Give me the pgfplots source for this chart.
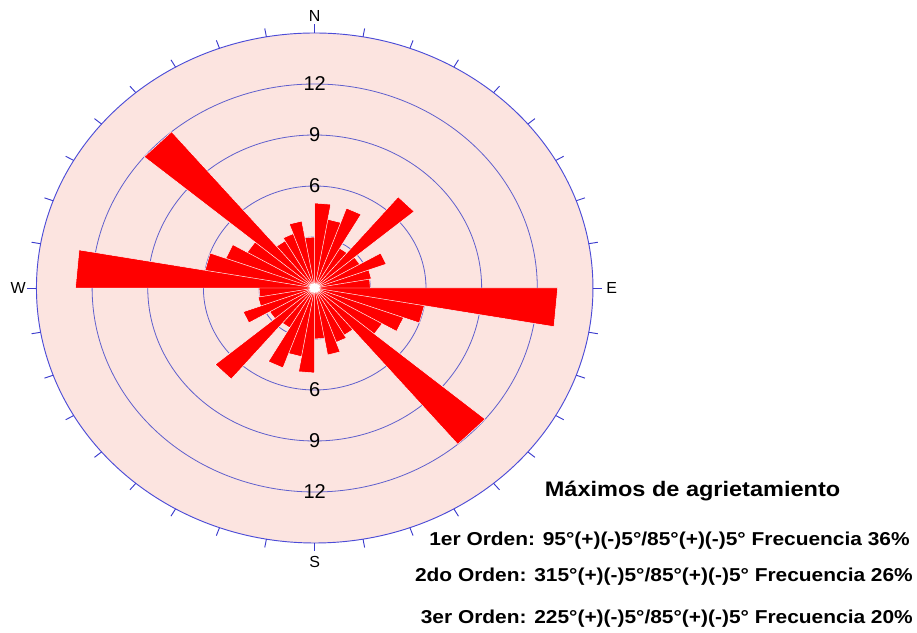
\documentclass[border=0pt]{standalone}
\usepackage{pgfplots}
\pgfplotsset{compat=1.18}
\usepackage{fontspec}
\setmainfont{Liberation Sans}
\usepackage{graphicx}
\definecolor{diskpink}{RGB}{252,228,224}
\definecolor{ringblue}{RGB}{95,95,205}
\definecolor{tickblue}{RGB}{60,60,205}
\definecolor{barred}{RGB}{255,0,0}
\begin{document}
\begin{tikzpicture}
\begin{axis}[
  x=13.9125pt, y=12.75pt,
  xmin=-16.965, xmax=32.469, ymin=-20.294, ymax=16.941,
  scale only axis, hide axis, clip=false,
  anchor=south west, at={(0,0)},
]
\path (rel axis cs:0,0) rectangle (rel axis cs:1,1);
\fill[diskpink] (axis cs:0,0) ellipse [x radius=15, y radius=15];
\pgfplotsinvokeforeach{3,6,9,12}{
  \draw[ringblue, line width=0.6pt] (axis cs:0,0) ellipse [x radius=#1, y radius=#1];
}
% rose bars: (math angle, length), each 10 degree class drawn as a wedge
\addplot[fill=barred, draw=white, line width=0.35pt, data cs=polar] coordinates {
(0,0) (90,5.0) (80,5.0)
(0,0) (80,4.1) (70,4.1)
(0,0) (70,5.0) (60,5.0)
(0,0) (60,2.7) (50,2.7)
(0,0) (50,7.0) (40,7.0)
(0,0) (40,2.8) (30,2.8)
(0,0) (30,4.1) (20,4.1)
(0,0) (20,3.1) (10,3.1)
(0,0) (10,3.0) (0,3.0)
(0,0) (0,13.1) (-10,13.1)
(0,0) (-10,6.0) (-20,6.0)
(0,0) (-20,5.1) (-30,5.1)
(0,0) (-30,4.2) (-40,4.2)
(0,0) (-40,12.0) (-50,12.0)
(0,0) (-50,3.2) (-60,3.2)
(0,0) (-60,3.4) (-70,3.4)
(0,0) (-70,4.0) (-80,4.0)
(0,0) (-80,3.0) (-90,3.0)
(0,0) (-90,5.0) (-100,5.0)
(0,0) (-100,4.1) (-110,4.1)
(0,0) (-110,5.0) (-120,5.0)
(0,0) (-120,2.7) (-130,2.7)
(0,0) (-130,7.0) (-140,7.0)
(0,0) (-140,2.8) (-150,2.8)
(0,0) (-150,4.1) (-160,4.1)
(0,0) (-160,3.1) (-170,3.1)
(0,0) (-170,3.0) (-180,3.0)
(0,0) (-180,12.9) (-190,12.9)
(0,0) (-190,6.0) (-200,6.0)
(0,0) (-200,5.1) (-210,5.1)
(0,0) (-210,4.2) (-220,4.2)
(0,0) (-220,12.0) (-230,12.0)
(0,0) (-230,3.2) (-240,3.2)
(0,0) (-240,3.4) (-250,3.4)
(0,0) (-250,4.0) (-260,4.0)
(0,0) (-260,3.0) (-270,3.0)
(0,0)
};
\fill[white] (axis cs:0,0) ellipse [x radius=0.25, y radius=0.25];
\draw[ringblue!80!blue, line width=0.7pt] (axis cs:0,0) ellipse [x radius=15, y radius=15];
\pgfplotsinvokeforeach{0,10,20,30,40,50,60,70,80,90,100,110,120,130,140,150,160,170,180,190,200,210,220,230,240,250,260,270,280,290,300,310,320,330,340,350}{
  \draw[tickblue, line width=0.7pt] (axis cs:{15*sin(#1)},{15*cos(#1)}) -- (axis cs:{15.5*sin(#1)},{15.5*cos(#1)});
}
\pgfplotsinvokeforeach{6,9,12}{
  \node[font=\fontsize{15}{15}\selectfont, inner sep=0pt, anchor=center] at (axis cs:0,#1) {#1};
  \node[font=\fontsize{15}{15}\selectfont, inner sep=0pt, anchor=center] at (axis cs:0,-#1) {#1};
}
\node[font=\fontsize{12}{12}\selectfont, inner sep=0pt, anchor=center] at (axis cs:0,16.0) {N};
\node[font=\fontsize{12}{12}\selectfont, inner sep=0pt, anchor=center] at (axis cs:0,-16.1) {S};
\node[font=\fontsize{12}{12}\selectfont, inner sep=0pt, anchor=center] at (axis cs:16.01,0) {E};
\node[font=\fontsize{12}{12}\selectfont, inner sep=0pt, anchor=center] at (axis cs:-15.98,0) {W};
\node[font=\bfseries\fontsize{15.75}{16}\selectfont, inner sep=0pt, anchor=base] at (axis cs:20.37,-12.28) {\scalebox{1.12}[1]{Máximos de agrietamiento}};
\node[font=\bfseries\fontsize{14}{14}\selectfont, inner sep=0pt, anchor=base east] at (axis cs:32.09,-15.12) {\scalebox{1.12}[1]{1er Orden: 95°(+)(-)5°/85°(+)(-)5° Frecuencia 36\%}};
\node[font=\bfseries\fontsize{14}{14}\selectfont, inner sep=0pt, anchor=base east] at (axis cs:32.26,-17.28) {\scalebox{1.12}[1]{2do Orden: 315°(+)(-)5°/85°(+)(-)5° Frecuencia 26\%}};
\node[font=\bfseries\fontsize{14}{14}\selectfont, inner sep=0pt, anchor=base east] at (axis cs:32.26,-19.72) {\scalebox{1.12}[1]{3er Orden: 225°(+)(-)5°/85°(+)(-)5° Frecuencia 20\%}};
\end{axis}
\end{tikzpicture}
\end{document}
